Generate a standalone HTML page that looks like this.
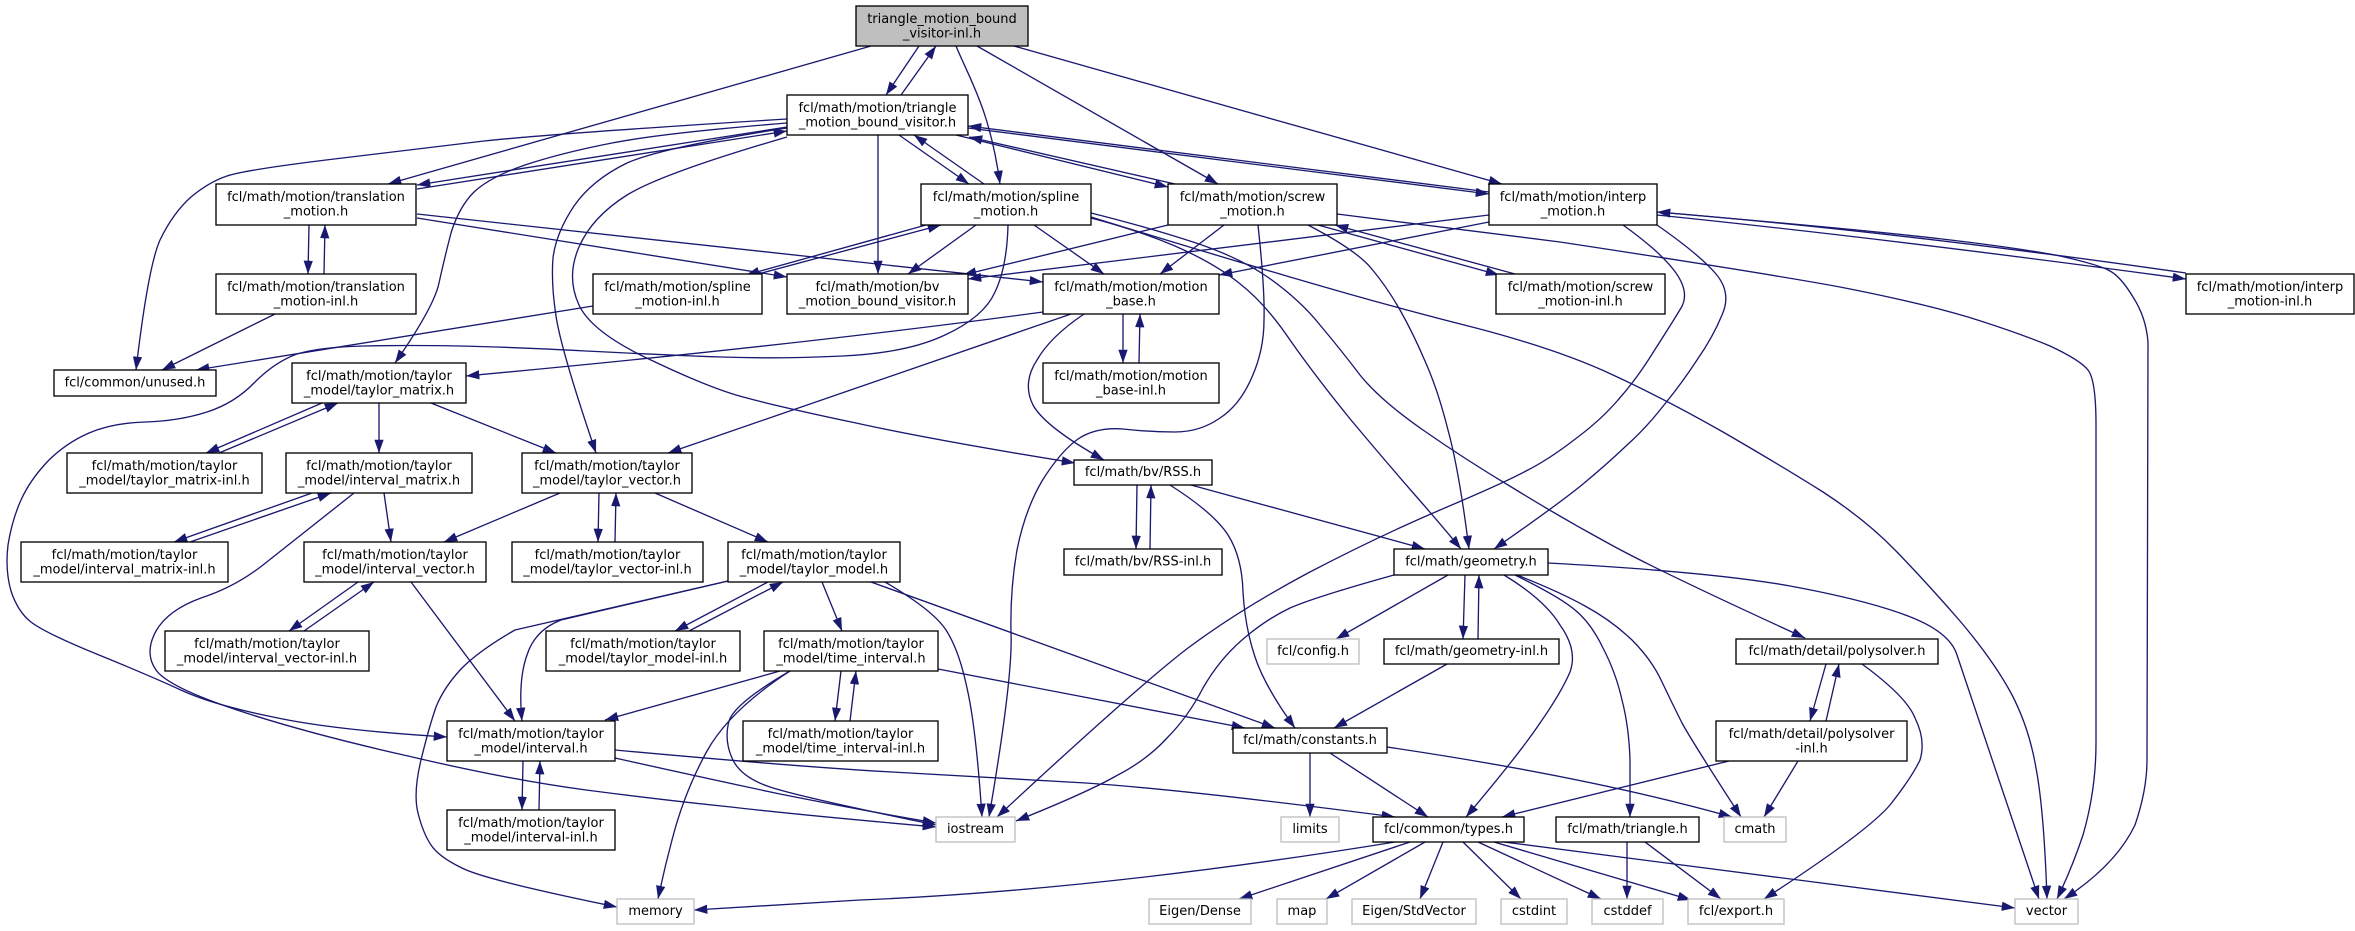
<!DOCTYPE html>
<html><head><meta charset="utf-8"><title>Include graph</title>
<style>html,body{margin:0;padding:0;background:#fff}svg{display:block}text{font-family:"DejaVu Sans",sans-serif;font-size:13px;text-anchor:middle;fill:#000}rect{fill:#fff;stroke:#000;stroke-width:1.33}rect.g{stroke:#bfbfbf}rect.r{fill:#bfbfbf}</style></head>
<body>
<svg xmlns="http://www.w3.org/2000/svg" width="2355" height="931" viewBox="0 0 2355 931">
<defs><marker id="a" markerUnits="userSpaceOnUse" markerWidth="14" markerHeight="10" refX="13.3" refY="4.65" orient="auto"><path d="M0 0L13.3 4.65L0 9.3z" fill="#191970"/></marker></defs>
<g fill="none" stroke="#191970" stroke-width="1.33" marker-end="url(#a)">
<path d="M871 46L388 184"/><path d="M919 46L886 95"/><path d="M901 95L936 46"/><path d="M956 46C970 80 990 110 1000 184"/><path d="M977 46L1218 184"/><path d="M1014 46L1502 184"/>
<path d="M787 119Q561 133 484 141Q408 150 326 160Q245 170 227 176Q209 182 191 197Q173 213 160 240Q148 267 136 370"/>
<path d="M787 123Q663 133 612 143Q561 153 525 165Q490 177 474 192Q459 207 451 233Q444 260 439 283Q434 307 395 363"/>
<path d="M787 127L417 185"/><path d="M417 189L787 131"/>
<path d="M787 128Q663 147 627 163Q592 180 574 206Q556 233 553 258Q551 283 556 316Q561 350 596 453"/>
<path d="M787 137Q663 173 627 195Q592 217 579 247Q566 277 579 305Q592 333 653 361Q714 390 747 398Q780 407 856 423Q933 440 1075 463"/>
<path d="M899 135L969 184"/><path d="M984 184L914 135"/><path d="M878 135L878 274"/><path d="M956 135L1168 187"/><path d="M1175 184L969 137"/><path d="M968 128L1489 194"/><path d="M1489 192L968 126"/>
<path d="M417 218L787 277"/><path d="M417 214L1043 282"/><path d="M309 225L308 274"/><path d="M324 274L325 225"/><path d="M275 314L162 370"/><path d="M593 306L196 370"/>
<path d="M926 225L746 275"/><path d="M762 273L941 225"/><path d="M976 225L908 274"/><path d="M1034 225L1104 274"/>
<path d="M1008 225Q1007 267 995 292Q984 317 945 335Q907 353 843 356Q780 359 721 357Q663 355 586 351Q510 347 459 346Q408 345 364 346Q320 347 297 354Q275 362 255 382Q235 403 207 412Q179 421 145 422Q112 423 89 433Q66 443 48 461Q30 480 21 500Q12 520 8 545Q5 570 11 591Q18 612 31 622Q45 633 99 655Q153 677 183 691Q214 705 273 717Q332 730 447 737"/>
<path d="M1091 218Q1137 230 1175 246Q1214 263 1239 283Q1265 303 1290 340Q1316 377 1351 420Q1387 463 1415 495Q1443 527 1461 549"/>
<path d="M1091 213Q1147 227 1193 242Q1239 257 1269 278Q1300 300 1320 325Q1341 350 1360 375Q1380 400 1423 430Q1466 460 1513 488Q1560 517 1606 542Q1652 568 1805 638"/>
<path d="M1091 217Q1188 247 1290 277Q1392 307 1476 328Q1560 350 1613 375Q1667 400 1723 432Q1780 465 1823 492Q1866 520 1896 551Q1927 583 1960 621Q1993 660 2011 693Q2029 727 2036 768Q2044 810 2047 899"/>
<path d="M1168 225L963 275"/><path d="M1224 225L1160 274"/>
<path d="M1258 225Q1265 290 1264 320Q1264 350 1252 377Q1240 405 1220 418Q1200 432 1175 432Q1150 432 1123 429Q1096 427 1078 439Q1060 452 1042 481Q1025 510 1017 550Q1010 590 1011 633Q1013 677 989 817"/>
<path d="M1308 225Q1356 250 1371 268Q1387 287 1400 310Q1413 333 1425 361Q1438 390 1448 430Q1459 470 1469 549"/>
<path d="M1318 225L1499 275"/><path d="M1515 274L1335 225"/>
<path d="M1337 214L1560 242Q1764 273 1840 287Q1917 302 1968 317Q2019 333 2050 346Q2080 360 2088 370Q2096 380 2096 425L2096 743Q2096 790 2083 835Q2072 868 2057 899"/>
<path d="M1489 215L968 279"/><path d="M1489 222L1219 275"/>
<path d="M1623 225Q1662 253 1676 273Q1690 293 1681 308Q1672 323 1654 351Q1636 380 1618 400Q1601 420 1574 440Q1548 460 1526 471Q1504 483 1440 510Q1377 537 1308 573Q1239 610 1188 648Q1137 687 997 817"/>
<path d="M1657 225Q1700 255 1716 274Q1732 293 1722 315Q1713 337 1697 360Q1682 383 1664 405Q1647 427 1626 446Q1606 465 1583 484Q1560 503 1494 549"/>
<path d="M1657 215Q1900 240 2186 279"/><path d="M2186 273Q1900 232 1657 212"/>
<path d="M1657 212Q1866 230 1942 239Q2019 248 2060 256Q2100 265 2110 271Q2121 277 2133 297Q2146 317 2148 342L2147 760Q2147 790 2135 825Q2116 865 2064 899"/>
<path d="M1043 312Q800 345 466 376"/><path d="M1071 314L668 453"/>
<path d="M1084 314Q1050 337 1037 360Q1022 383 1033 405Q1045 427 1104 460"/>
<path d="M1123 314L1123 363"/><path d="M1139 363L1140 314"/>
<path d="M322 403L206 453"/><path d="M219 453L338 403"/><path d="M379 403L379 453"/><path d="M431 403L556 453"/>
<path d="M312 493L174 542"/><path d="M190 542L331 493"/><path d="M384 493L391 542"/>
<path d="M354 493Q291 543 263 565Q235 587 201 598Q168 610 156 631Q144 653 156 670Q168 687 237 710Q306 733 408 756Q510 780 586 790Q663 800 731 807Q800 815 936 827"/>
<path d="M560 493L444 542"/><path d="M599 493L598 542"/><path d="M615 542L616 493"/><path d="M655 493L768 542"/>
<path d="M358 582L289 631"/><path d="M304 631L374 582"/><path d="M411 582L515 721"/>
<path d="M728 581L561 620Q535 630 527 655Q518 680 522 721"/>
<path d="M728 581L515 630Q480 650 462 668Q444 687 436 707Q429 727 421 760Q413 793 418 813Q423 833 431 845Q439 857 462 868Q485 880 617 907"/>
<path d="M768 582L675 631"/><path d="M689 631L783 582"/><path d="M822 582L842 631"/><path d="M871 582L1275 728"/>
<path d="M885 582Q933 610 946 630Q959 650 967 688Q976 727 982 817"/>
<path d="M780 671L605 720"/><path d="M790 671Q730 710 707 751Q684 793 672 840Q664 870 658 899"/>
<path d="M790 671Q735 703 729 721Q724 740 732 758Q740 777 770 787Q800 797 936 825"/>
<path d="M841 671L835 721"/><path d="M850 721L856 671"/><path d="M938 669L1245 728"/>
<path d="M615 758Q700 777 780 794Q860 810 936 823"/><path d="M615 750Q800 767 892 772Q984 777 1086 783Q1188 790 1395 817"/>
<path d="M523 761L522 810"/><path d="M539 810L540 761"/>
<path d="M1137 485L1136 549"/><path d="M1150 549L1151 485"/>
<path d="M1170 485Q1214 513 1228 535Q1242 557 1243 592Q1245 627 1255 657Q1265 687 1295 728"/>
<path d="M1191 485L1425 549"/>
<path d="M1394 575Q1315 597 1290 608Q1265 620 1242 640Q1219 660 1203 688Q1188 717 1167 738Q1147 760 1116 776Q1086 793 1016 821"/>
<path d="M1448 575L1336 639"/><path d="M1465 575L1463 639"/><path d="M1478 639L1479 575"/>
<path d="M1504 575Q1545 600 1560 625Q1578 650 1570 672Q1561 693 1540 723Q1520 753 1466 817"/>
<path d="M1515 575Q1560 597 1575 610Q1591 623 1603 648Q1616 673 1622 700Q1629 727 1630 760L1630 817"/>
<path d="M1517 575Q1560 592 1585 606Q1611 620 1632 640Q1652 660 1662 682Q1672 703 1682 723Q1693 743 1741 817"/>
<path d="M1548 563Q1713 572 1790 586Q1866 600 1908 616Q1950 632 1957 655L2039 899"/>
<path d="M1447 664L1334 728"/><path d="M1310 753L1310 817"/><path d="M1330 753L1428 817"/><path d="M1387 747Q1590 777 1732 817"/>
<path d="M1395 842Q1100 890 860 900Q780 905 694 910"/>
<path d="M1410 842L1239 899"/><path d="M1425 842L1326 899"/><path d="M1443 842L1420 899"/><path d="M1463 842L1521 899"/><path d="M1478 842L1601 899"/><path d="M1494 842L1691 900"/><path d="M1504 842L2015 908"/>
<path d="M1627 842L1627 899"/><path d="M1645 842L1721 899"/>
<path d="M1826 664L1810 721"/><path d="M1826 721L1839 664"/>
<path d="M1862 664Q1907 697 1915 718Q1926 740 1920 760Q1912 777 1890 805Q1866 833 1764 899"/>
<path d="M1729 761L1502 817"/><path d="M1798 761L1764 817"/>
</g>
<rect class="r" x="856" y="6" width="172" height="40"/><text x="942" y="23">triangle_motion_bound</text><text x="942" y="37.5">_visitor-inl.h</text>
<rect x="787" y="95" width="181" height="40"/><text x="877.5" y="112">fcl/math/motion/triangle</text><text x="877.5" y="126.5">_motion_bound_visitor.h</text>
<rect x="216" y="184" width="200" height="41"/><text x="316" y="201">fcl/math/motion/translation</text><text x="316" y="215.5">_motion.h</text>
<rect x="216" y="274" width="200" height="40"/><text x="316" y="291">fcl/math/motion/translation</text><text x="316" y="305.5">_motion-inl.h</text>
<rect x="54" y="370" width="162" height="26"/><text x="135" y="386.5">fcl/common/unused.h</text>
<rect x="292" y="363" width="174" height="40"/><text x="379" y="380">fcl/math/motion/taylor</text><text x="379" y="394.5">_model/taylor_matrix.h</text>
<rect x="593" y="274" width="169" height="40"/><text x="677.5" y="291">fcl/math/motion/spline</text><text x="677.5" y="305.5">_motion-inl.h</text>
<rect x="787" y="274" width="181" height="40"/><text x="877.5" y="291">fcl/math/motion/bv</text><text x="877.5" y="305.5">_motion_bound_visitor.h</text>
<rect x="921" y="184" width="170" height="41"/><text x="1006" y="201">fcl/math/motion/spline</text><text x="1006" y="215.5">_motion.h</text>
<rect x="1168" y="184" width="169" height="41"/><text x="1252.5" y="201">fcl/math/motion/screw</text><text x="1252.5" y="215.5">_motion.h</text>
<rect x="1043" y="274" width="176" height="40"/><text x="1131" y="291">fcl/math/motion/motion</text><text x="1131" y="305.5">_base.h</text>
<rect x="1043" y="363" width="176" height="40"/><text x="1131" y="380">fcl/math/motion/motion</text><text x="1131" y="394.5">_base-inl.h</text>
<rect x="1489" y="184" width="168" height="41"/><text x="1573" y="201">fcl/math/motion/interp</text><text x="1573" y="215.5">_motion.h</text>
<rect x="1496" y="274" width="169" height="40"/><text x="1580.5" y="291">fcl/math/motion/screw</text><text x="1580.5" y="305.5">_motion-inl.h</text>
<rect x="2186" y="274" width="168" height="40"/><text x="2270" y="291">fcl/math/motion/interp</text><text x="2270" y="305.5">_motion-inl.h</text>
<rect x="1074" y="460" width="138" height="25"/><text x="1143" y="476">fcl/math/bv/RSS.h</text>
<rect x="67" y="453" width="195" height="40"/><text x="164.5" y="470">fcl/math/motion/taylor</text><text x="164.5" y="484.5">_model/taylor_matrix-inl.h</text>
<rect x="286" y="453" width="186" height="40"/><text x="379" y="470">fcl/math/motion/taylor</text><text x="379" y="484.5">_model/interval_matrix.h</text>
<rect x="522" y="453" width="170" height="40"/><text x="607" y="470">fcl/math/motion/taylor</text><text x="607" y="484.5">_model/taylor_vector.h</text>
<rect x="21" y="542" width="207" height="40"/><text x="124.5" y="559">fcl/math/motion/taylor</text><text x="124.5" y="573.5">_model/interval_matrix-inl.h</text>
<rect x="304" y="542" width="182" height="40"/><text x="395" y="559">fcl/math/motion/taylor</text><text x="395" y="573.5">_model/interval_vector.h</text>
<rect x="512" y="542" width="191" height="40"/><text x="607.5" y="559">fcl/math/motion/taylor</text><text x="607.5" y="573.5">_model/taylor_vector-inl.h</text>
<rect x="728" y="542" width="172" height="40"/><text x="814" y="559">fcl/math/motion/taylor</text><text x="814" y="573.5">_model/taylor_model.h</text>
<rect x="165" y="631" width="204" height="40"/><text x="267" y="648">fcl/math/motion/taylor</text><text x="267" y="662.5">_model/interval_vector-inl.h</text>
<rect x="546" y="631" width="194" height="40"/><text x="643" y="648">fcl/math/motion/taylor</text><text x="643" y="662.5">_model/taylor_model-inl.h</text>
<rect x="764" y="631" width="174" height="40"/><text x="851" y="648">fcl/math/motion/taylor</text><text x="851" y="662.5">_model/time_interval.h</text>
<rect x="447" y="721" width="168" height="40"/><text x="531" y="738">fcl/math/motion/taylor</text><text x="531" y="752.5">_model/interval.h</text>
<rect x="447" y="810" width="168" height="40"/><text x="531" y="827">fcl/math/motion/taylor</text><text x="531" y="841.5">_model/interval-inl.h</text>
<rect x="743" y="721" width="195" height="40"/><text x="840.5" y="738">fcl/math/motion/taylor</text><text x="840.5" y="752.5">_model/time_interval-inl.h</text>
<rect class="g" x="617" y="899" width="77" height="25"/><text x="655.5" y="915">memory</text>
<rect x="1064" y="549" width="158" height="26"/><text x="1143" y="565.5">fcl/math/bv/RSS-inl.h</text>
<rect x="1394" y="549" width="154" height="26"/><text x="1471" y="565.5">fcl/math/geometry.h</text>
<rect class="g" x="1267" y="639" width="92" height="25"/><text x="1313" y="655">fcl/config.h</text>
<rect x="1384" y="639" width="175" height="25"/><text x="1471.5" y="655">fcl/math/geometry-inl.h</text>
<rect x="1233" y="728" width="154" height="25"/><text x="1310" y="744">fcl/math/constants.h</text>
<rect class="g" x="936" y="817" width="79" height="25"/><text x="975.5" y="833">iostream</text>
<rect class="g" x="1281" y="817" width="58" height="25"/><text x="1310" y="833">limits</text>
<rect x="1373" y="817" width="151" height="25"/><text x="1448.5" y="833">fcl/common/types.h</text>
<rect class="g" x="1149" y="899" width="102" height="25"/><text x="1200" y="915">Eigen/Dense</text>
<rect class="g" x="1277" y="899" width="50" height="25"/><text x="1302" y="915">map</text>
<rect class="g" x="1352" y="899" width="124" height="25"/><text x="1414" y="915">Eigen/StdVector</text>
<rect class="g" x="1501" y="899" width="66" height="25"/><text x="1534" y="915">cstdint</text>
<rect x="1736" y="639" width="202" height="25"/><text x="1837" y="655">fcl/math/detail/polysolver.h</text>
<rect x="1716" y="721" width="191" height="40"/><text x="1811.5" y="738">fcl/math/detail/polysolver</text><text x="1811.5" y="752.5">-inl.h</text>
<rect x="1556" y="817" width="143" height="25"/><text x="1627.5" y="833">fcl/math/triangle.h</text>
<rect class="g" x="1724" y="817" width="62" height="25"/><text x="1755" y="833">cmath</text>
<rect class="g" x="1592" y="899" width="71" height="25"/><text x="1627.5" y="915">cstddef</text>
<rect class="g" x="1688" y="899" width="96" height="25"/><text x="1736" y="915">fcl/export.h</text>
<rect class="g" x="2015" y="899" width="63" height="25"/><text x="2046.5" y="915">vector</text>
</svg>
</body></html>
